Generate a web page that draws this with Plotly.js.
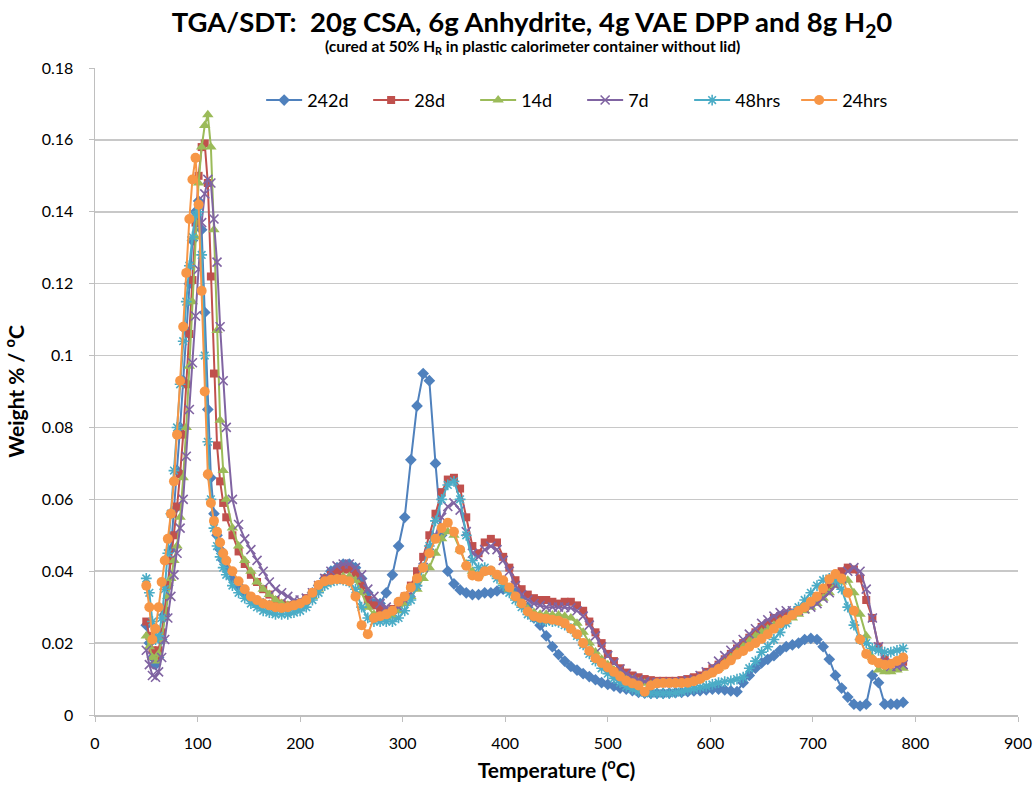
<!DOCTYPE html>
<html>
<head>
<meta charset="utf-8">
<script src="https://cdn.plot.ly/plotly-3.0.1.min.js"></script>
<style>html,body{margin:0;padding:0;background:#fff;}#chart{width:1036px;height:788px;}</style>
</head>
<body>
<div id="chart"></div>
<script>
// Temperature (°C) sample points shared by all series
const temperature = [
  50,53,56,59,62,65,68,71,74,77,
  80,83,86,89,92,95,98,101,104,107,
  110,113,116,119,122,125,128,134,140,146,
  152,158,164,170,176,182,188,194,200,206,
  212,218,224,230,236,242,248,254,260,266,
  272,278,284,290,296,302,308,314,320,326,
  332,338,344,350,356,362,368,374,380,386,
  392,398,404,410,416,422,428,434,440,446,
  452,458,464,470,476,482,488,494,500,506,
  512,518,524,530,536,542,548,554,560,566,
  572,578,584,590,596,602,608,614,620,626,
  632,638,644,650,656,662,668,674,680,686,
  692,698,704,710,716,722,728,734,740,746,
  752,758,764,770,776,782,788
];

const d242 = [
  0.025,0.020,0.016,0.014,0.016,0.021,0.028,0.036,0.046,0.057,
  0.068,0.080,0.093,0.107,0.120,0.132,0.140,0.143,0.135,0.112,
  0.085,0.066,0.056,0.050,0.046,0.043,0.041,0.038,0.036,0.034,
  0.0325,0.0315,0.031,0.0305,0.030,0.030,0.030,0.0305,0.031,0.032,
  0.034,0.036,0.038,0.040,0.041,0.042,0.042,0.041,0.038,0.034,
  0.031,0.031,0.034,0.039,0.047,0.055,0.071,0.086,0.095,0.093,
  0.070,0.050,0.040,0.0365,0.0348,0.034,0.0335,0.0335,0.034,0.034,
  0.0345,0.035,0.035,0.034,0.0325,0.030,0.027,0.025,0.022,0.019,
  0.0168,0.015,0.0135,0.0125,0.0115,0.0107,0.0098,0.009,0.0085,0.008,
  0.0075,0.0072,0.0068,0.0063,0.0061,0.006,0.006,0.006,0.0061,0.0062,
  0.0063,0.0065,0.0067,0.0068,0.007,0.0072,0.0072,0.007,0.0067,0.0065,
  0.009,0.011,0.013,0.0145,0.0155,0.0165,0.018,0.019,0.0195,0.020,
  0.021,0.0213,0.021,0.019,0.0155,0.011,0.0075,0.005,0.003,0.0025,
  0.003,0.011,0.009,0.003,0.003,0.003,0.0035
];

const d28 = [
  0.026,0.022,0.018,0.016,0.018,0.023,0.029,0.036,0.043,0.050,
  0.058,0.067,0.078,0.092,0.106,0.121,0.137,0.150,0.158,0.159,
  0.148,0.122,0.095,0.075,0.065,0.059,0.055,0.050,0.0455,0.042,
  0.039,0.037,0.035,0.0335,0.032,0.031,0.0305,0.0305,0.031,0.0325,
  0.034,0.036,0.038,0.039,0.040,0.0405,0.0405,0.0395,0.036,0.032,
  0.0305,0.0295,0.029,0.0295,0.031,0.033,0.036,0.040,0.044,0.050,
  0.056,0.062,0.0655,0.066,0.063,0.055,0.047,0.045,0.048,0.049,
  0.048,0.044,0.041,0.0375,0.035,0.0335,0.0325,0.032,0.032,0.0315,
  0.031,0.0315,0.0315,0.0305,0.029,0.026,0.023,0.020,0.017,0.015,
  0.013,0.0118,0.011,0.0105,0.010,0.0097,0.0095,0.0095,0.0095,0.0095,
  0.0097,0.010,0.0105,0.011,0.012,0.013,0.014,0.0155,0.017,0.0185,
  0.020,0.0215,0.023,0.0245,0.0255,0.027,0.0275,0.028,0.0285,0.029,
  0.030,0.031,0.0325,0.034,0.036,0.038,0.040,0.041,0.0405,0.038,
  0.032,0.027,0.019,0.0155,0.0145,0.0145,0.0148
];

const d14 = [
  0.022,0.019,0.016,0.015,0.017,0.021,0.027,0.033,0.038,0.043,
  0.047,0.055,0.066,0.080,0.097,0.115,0.133,0.148,0.158,0.164,
  0.167,0.158,0.135,0.107,0.082,0.068,0.060,0.052,0.047,0.043,
  0.040,0.037,0.035,0.0335,0.032,0.031,0.0305,0.0305,0.031,0.032,
  0.033,0.035,0.0365,0.0375,0.038,0.0385,0.0385,0.0375,0.034,0.030,
  0.028,0.027,0.027,0.0275,0.029,0.031,0.033,0.035,0.038,0.041,
  0.045,0.049,0.051,0.050,0.046,0.042,0.040,0.039,0.040,0.040,
  0.039,0.037,0.035,0.033,0.031,0.0295,0.0285,0.028,0.028,0.0278,
  0.0278,0.0275,0.027,0.0255,0.023,0.020,0.0175,0.0155,0.014,0.0125,
  0.0115,0.0105,0.0098,0.0092,0.0088,0.0085,0.0085,0.0085,0.0085,0.0085,
  0.0087,0.009,0.0095,0.010,0.011,0.012,0.013,0.0145,0.016,0.0175,
  0.019,0.0205,0.022,0.023,0.024,0.025,0.026,0.0265,0.027,0.028,
  0.029,0.030,0.031,0.0325,0.034,0.036,0.037,0.0375,0.034,0.028,
  0.022,0.016,0.0125,0.012,0.012,0.0125,0.013
];

const d7 = [
  0.018,0.014,0.011,0.0105,0.012,0.016,0.021,0.027,0.033,0.039,
  0.045,0.052,0.060,0.072,0.085,0.098,0.111,0.124,0.137,0.145,
  0.149,0.148,0.138,0.126,0.108,0.093,0.080,0.060,0.053,0.049,
  0.046,0.043,0.040,0.037,0.035,0.034,0.033,0.032,0.032,0.0325,
  0.034,0.036,0.038,0.040,0.0415,0.042,0.042,0.041,0.039,0.035,
  0.033,0.031,0.030,0.0295,0.030,0.032,0.034,0.037,0.041,0.045,
  0.050,0.055,0.058,0.059,0.057,0.051,0.045,0.044,0.046,0.047,
  0.046,0.043,0.040,0.036,0.0335,0.032,0.031,0.0305,0.030,0.030,
  0.030,0.030,0.0298,0.029,0.0275,0.025,0.022,0.019,0.0165,0.0145,
  0.0128,0.0115,0.0105,0.0098,0.0093,0.009,0.009,0.009,0.009,0.009,
  0.0093,0.0097,0.010,0.011,0.012,0.0135,0.015,0.0165,0.018,0.0195,
  0.021,0.0225,0.024,0.0255,0.0265,0.0275,0.0285,0.029,0.029,0.029,
  0.0295,0.030,0.031,0.0325,0.034,0.036,0.038,0.040,0.041,0.040,
  0.035,0.027,0.019,0.0145,0.0135,0.0135,0.014
];

const d48h = [
  0.038,0.034,0.026,0.021,0.022,0.027,0.035,0.045,0.056,0.068,
  0.080,0.092,0.104,0.115,0.125,0.133,0.139,0.140,0.128,0.100,
  0.076,0.060,0.052,0.047,0.044,0.041,0.039,0.036,0.034,0.0325,
  0.031,0.030,0.029,0.0285,0.028,0.028,0.028,0.0285,0.029,0.030,
  0.032,0.034,0.036,0.037,0.0375,0.0375,0.037,0.035,0.030,0.027,
  0.026,0.026,0.026,0.026,0.027,0.029,0.032,0.036,0.041,0.047,
  0.054,0.060,0.064,0.065,0.060,0.050,0.043,0.041,0.041,0.040,
  0.038,0.036,0.034,0.032,0.030,0.028,0.027,0.0265,0.026,0.026,
  0.0258,0.025,0.024,0.022,0.0195,0.017,0.015,0.013,0.0115,0.0102,
  0.009,0.008,0.0072,0.0066,0.0062,0.006,0.006,0.006,0.006,0.0062,
  0.0065,0.007,0.0073,0.0077,0.008,0.0085,0.009,0.0093,0.0095,0.010,
  0.0105,0.013,0.015,0.0175,0.019,0.021,0.023,0.0255,0.028,0.030,
  0.032,0.034,0.036,0.0375,0.038,0.0375,0.035,0.030,0.025,0.021,
  0.020,0.0185,0.018,0.0175,0.0175,0.018,0.0185
];

const d24h = [
  0.036,0.030,0.021,0.024,0.030,0.037,0.043,0.049,0.056,0.065,
  0.078,0.093,0.108,0.123,0.138,0.149,0.155,0.142,0.118,0.090,
  0.067,0.059,0.054,0.051,0.048,0.045,0.043,0.040,0.0372,0.035,
  0.033,0.032,0.031,0.0305,0.030,0.0298,0.030,0.0305,0.031,0.032,
  0.034,0.0362,0.0372,0.0376,0.0378,0.0377,0.0372,0.033,0.025,0.0225,
  0.027,0.0275,0.028,0.029,0.0315,0.033,0.0355,0.038,0.041,0.045,
  0.049,0.052,0.0535,0.051,0.046,0.0415,0.0388,0.0385,0.040,0.0402,
  0.039,0.0375,0.0355,0.033,0.031,0.0288,0.0275,0.027,0.0268,0.0265,
  0.0262,0.0255,0.024,0.0225,0.020,0.0178,0.0158,0.0145,0.0132,0.012,
  0.0107,0.0095,0.0088,0.0082,0.0065,0.0082,0.0088,0.0089,0.0089,0.0089,
  0.0089,0.009,0.0094,0.010,0.011,0.0118,0.0128,0.014,0.0152,0.0168,
  0.0178,0.019,0.020,0.0212,0.0225,0.024,0.0255,0.0265,0.0278,0.029,
  0.030,0.0315,0.033,0.0352,0.0378,0.0392,0.038,0.034,0.029,0.021,
  0.017,0.0153,0.0145,0.014,0.0142,0.015,0.016
];

const seriesNames = ['242d','28d','14d','7d','48hrs','24hrs'];
const seriesData = [d242, d28, d14, d7, d48h, d24h];
const seriesColors = ['#4F81BD','#C0504D','#9BBB59','#8064A2','#4BACC6','#F79646'];
const seriesSymbols = ['diamond','square','triangle-up','x-thin-open','asterisk-open','circle'];
const seriesSizes = [9,8,10,9,9,10];

const FONT = 'Lato, "Open Sans", sans-serif';

const traces = seriesNames.map((name, i) => {
  const open = seriesSymbols[i].indexOf('open') >= 0;
  return {
    type: 'scatter',
    mode: 'lines+markers',
    name: name,
    x: temperature,
    y: seriesData[i],
    line: {color: seriesColors[i], width: 2},
    marker: {
      symbol: seriesSymbols[i],
      size: seriesSizes[i],
      color: seriesColors[i],
      line: {color: seriesColors[i], width: open ? 1.6 : 0}
    }
  };
});

const layout = {
  width: 1036,
  height: 788,
  margin: {l: 95, r: 18, t: 68, b: 73, autoexpand: false},
  paper_bgcolor: '#ffffff',
  plot_bgcolor: '#ffffff',
  font: {family: FONT, color: '#000000', size: 15},
  title: {
    text: '<b>TGA/SDT:  20g CSA, 6g Anhydrite, 4g VAE DPP and 8g H<sub>2</sub>0</b>',
    font: {family: FONT, size: 27.5, color: '#000000'},
    x: 0.5135, xanchor: 'center',
    y: 0.971, yanchor: 'middle'
  },
  annotations: [{
    text: '<b>(cured at 50% H<sub>R</sub> in plastic calorimeter container without lid)</b>',
    xref: 'paper', yref: 'paper',
    x: 0.4735, y: 1.032, xanchor: 'center', yanchor: 'middle',
    showarrow: false,
    font: {family: FONT, size: 15.5, color: '#000000'}
  }],
  xaxis: {
    range: [0, 900],
    dtick: 100,
    tick0: 0,
    showgrid: false,
    zeroline: false,
    showline: true,
    linecolor: '#BFBFBF',
    linewidth: 1.5,
    ticks: 'outside',
    ticklen: 5,
    tickcolor: '#BFBFBF',
    ticklabelstandoff: 8,
    tickfont: {family: FONT, size: 16, color: '#000000'},
    title: {text: '<b>Temperature (<sup>o</sup>C)</b>', font: {family: FONT, size: 21, color: '#000000'}, standoff: 12}
  },
  yaxis: {
    range: [0, 0.18],
    dtick: 0.02,
    tick0: 0,
    showgrid: true,
    gridcolor: '#C8C8C8',
    gridwidth: 1.5,
    zeroline: false,
    showline: true,
    linecolor: '#BFBFBF',
    linewidth: 1.5,
    ticks: 'outside',
    ticklen: 5,
    tickcolor: '#BFBFBF',
    ticklabelstandoff: 12,
    tickfont: {family: FONT, size: 16, color: '#000000'},
    title: {text: '<b>Weight % / <sup>o</sup>C</b>', font: {family: FONT, size: 21, color: '#000000'}, standoff: 12}
  },
  showlegend: true,
  legend: {
    orientation: 'h',
    x: 0.18, xanchor: 'left',
    y: 0.95, yanchor: 'middle',
    bgcolor: 'rgba(0,0,0,0)',
    font: {family: FONT, size: 18, color: '#000000'},
    itemwidth: 36,
    entrywidth: 56,
    entrywidthmode: 'pixels',
    traceorder: 'normal'
  }
};

Plotly.newPlot('chart', traces, layout, {displayModeBar: false, staticPlot: true});
</script>
</body>
</html>
